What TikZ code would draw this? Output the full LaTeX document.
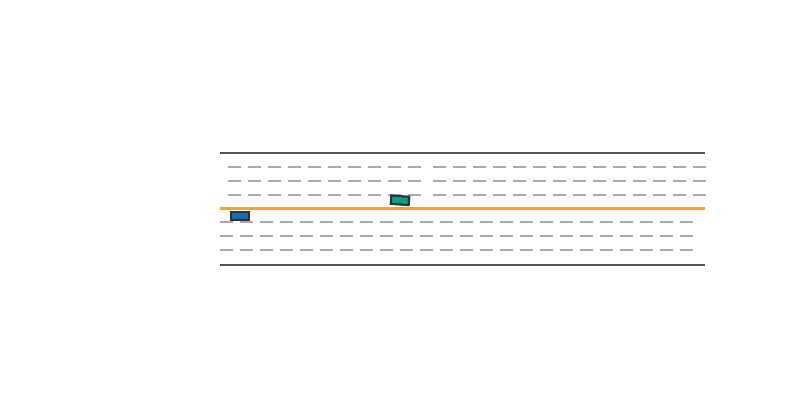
\documentclass[tikz,border=0pt]{standalone}
\definecolor{edgegray}{HTML}{555555}
\definecolor{lanegray}{HTML}{AAAAAA}
\definecolor{centerorange}{HTML}{F5A623}
\definecolor{carblue}{HTML}{0B72B9}
\definecolor{cargreen}{HTML}{00A37A}
\definecolor{carborder}{HTML}{333333}
\begin{document}
\begin{tikzpicture}[x=0.75pt,y=-0.75pt,
  roadedge/.style={draw=edgegray,line width=1.6pt},
  laneline/.style={draw=lanegray,line width=1.6pt,dash pattern=on 9.75pt off 5.25pt},
  centerline/.style={draw=centerorange,line width=1.6pt},
  car/.style={draw=carborder,line width=1.6pt,minimum width=13.5pt,minimum height=6.3pt,inner sep=0pt,outer sep=0pt}]
\useasboundingbox (0,0) rectangle (800,400);
% road edges
\draw[roadedge] (220,153) -- (705,153);
\draw[roadedge] (220,265) -- (705,265);
% centre line
\draw[centerline] (220,208.5) -- (705,208.5);
% upper lanes
\foreach \y in {167,181,195}{
  \draw[laneline] (228,\y) -- (421,\y);
  \draw[laneline] (433,\y) -- (706,\y);
}
% lower lanes
\foreach \y in {222,236,250}{
  \draw[laneline] (220,\y) -- (693.5,\y);
}
% cars
\node[car,fill=carblue] (bluecar) at (240.3,216) {};
\node[car,fill=cargreen,rotate=-4] (greencar) at (400,200.3) {};
\end{tikzpicture}
\end{document}
